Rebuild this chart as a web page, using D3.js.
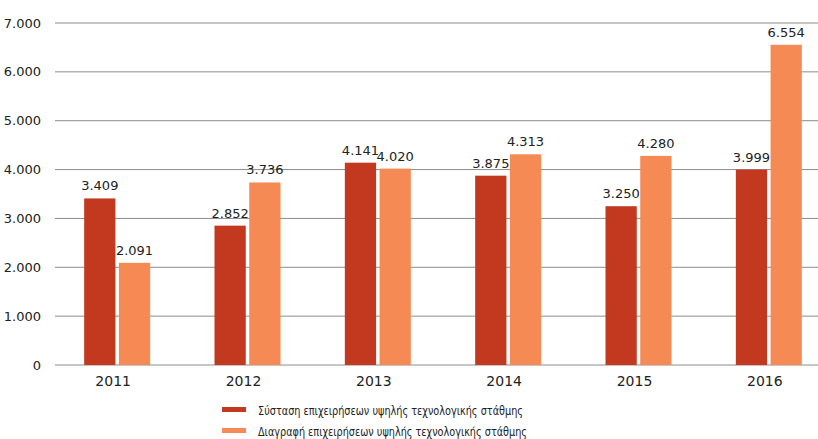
<!DOCTYPE html>
<html>
<head>
<meta charset="utf-8">
<script src="https://cdn.jsdelivr.net/npm/d3@7"></script>
<style>
  body { margin: 0; background: #fff; }
  text { font-family: "DejaVu Sans", sans-serif; fill: #222; }
</style>
</head>
<body>
<div id="chart"></div>
<script>
// data
var years = ["2011", "2012", "2013", "2014", "2015", "2016"];
var founded = [3409, 2852, 4141, 3875, 3250, 3999];
var deleted = [2091, 3736, 4020, 4313, 4280, 6554];
var seriesNames = [
  "Σύσταση επιχειρήσεων υψηλής τεχνολογικής στάθμης",
  "Διαγραφή επιχειρήσεων υψηλής τεχνολογικής στάθμης"
];
var yTicks = [0, 1000, 2000, 3000, 4000, 5000, 6000, 7000];
var colors = ["#c3391f", "#f58a55"];

var W = 818, H = 439;
var svg = d3.select("#chart").append("svg")
    .attr("width", W)
    .attr("height", H);

// greek thousands separator
var fmt = function (v) {
  var s = String(v);
  return s.length > 3 ? s.slice(0, -3) + "." + s.slice(-3) : s;
};

// scales
var y = d3.scaleLinear().domain([0, 7000]).range([365, 23]);
var x = d3.scaleBand().domain(years).range([48, 830]);
var xs = d3.scaleBand().domain([0, 1]).range([-29, 37]).paddingInner(0.1);

// gridlines
svg.append("g")
  .selectAll("line")
  .data(yTicks)
  .join("line")
    .attr("x1", 55).attr("x2", W)
    .attr("y1", d => y(d)).attr("y2", d => y(d))
    .attr("stroke", "#8c8c8c")
    .attr("stroke-width", 1);

svg.append("g")
  .selectAll("text")
  .data(yTicks)
  .join("text")
    .attr("x", 41)
    .attr("y", d => y(d))
    .attr("dy", "0.35em")
    .attr("text-anchor", "end")
    .attr("font-size", 13)
    .text(d => fmt(d));

// bars
var rows = years.map((yr, i) => ({ year: yr, vals: [founded[i], deleted[i]] }));
var groups = svg.append("g").selectAll("g")
  .data(rows)
  .join("g")
    .attr("transform", d => `translate(${x(d.year) + x.bandwidth() / 2},0)`);

groups.selectAll("rect")
  .data(d => d.vals.map((v, k) => ({ v: v, k: k })))
  .join("rect")
    .attr("x", d => xs(d.k))
    .attr("width", xs.bandwidth())
    .attr("y", d => y(d.v))
    .attr("height", d => y(0) - y(d.v))
    .attr("fill", d => colors[d.k]);

groups.selectAll("text.val")
  .data(d => d.vals.map((v, k) => ({ v: v, k: k })))
  .join("text")
    .attr("class", "val")
    .attr("x", d => xs(d.k) + xs.bandwidth() / 2)
    .attr("y", d => y(d.v) - 8)
    .attr("text-anchor", "middle")
    .attr("font-size", 13)
    .text(d => fmt(d.v));

// year labels
groups.append("text")
  .attr("x", 0)
  .attr("y", 386)
  .attr("text-anchor", "middle")
  .attr("font-size", 14)
  .text(d => d.year);

// legend
var legend = svg.append("g").selectAll("g")
  .data(seriesNames)
  .join("g")
    .attr("transform", (d, i) => `translate(222,${410 + i * 21})`);

legend.append("rect")
  .attr("x", 0).attr("y", -3)
  .attr("width", 24).attr("height", 5)
  .attr("fill", (d, i) => colors[i]);

// the printed legend uses a condensed face, squeeze to the same width
legend.append("text")
  .attr("x", 36)
  .attr("dy", "0.35em")
  .attr("font-size", 13)
  .attr("textLength", (d, i) => i === 0 ? 265 : 269)
  .attr("lengthAdjust", "spacingAndGlyphs")
  .text(d => d);
</script>
</body>
</html>
